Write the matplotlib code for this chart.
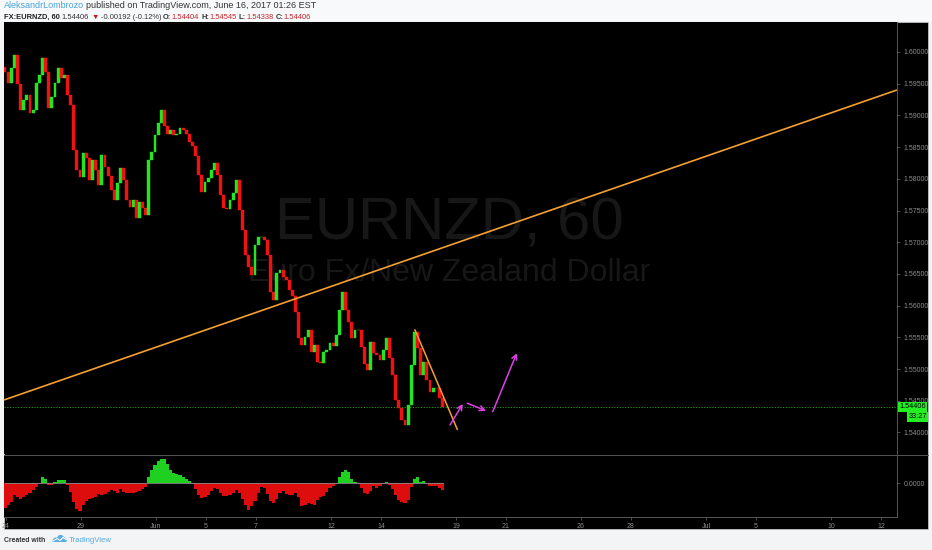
import numpy as np
import matplotlib
matplotlib.use("Agg")
import matplotlib.pyplot as plt
from matplotlib.patches import Rectangle, Polygon
from matplotlib.lines import Line2D
from matplotlib.transforms import blended_transform_factory

# ---------------- data ----------------
# 3-hour closes of EURNZD, trading-day axis (0 = May 24)
first_open = 1.59764
closes = [
    1.59685, 1.59511, 1.59748, 1.59953, 1.59495, 1.59085, 1.59243, 1.59322,
    1.59038, 1.59085, 1.59511, 1.59637, 1.59905, 1.59685, 1.59117, 1.59290,
    1.59511, 1.59748, 1.59590, 1.59637, 1.59322, 1.59164, 1.58455, 1.58139,
    1.58029, 1.58407, 1.58328, 1.57981, 1.58297, 1.58139, 1.57903, 1.58376,
    1.58187, 1.58045, 1.57824, 1.57666, 1.57934, 1.58171, 1.57981, 1.57666,
    1.57556, 1.57666, 1.57382, 1.57634, 1.57540, 1.57430, 1.58297, 1.58423,
    1.58691, 1.58880, 1.59085, 1.58833, 1.58707, 1.58770, 1.58691, 1.58707,
    1.58802, 1.58770, 1.58707, 1.58581, 1.58518, 1.58360, 1.58060, 1.57792,
    1.57950, 1.58013, 1.58139, 1.58250, 1.58060, 1.57745, 1.57540, 1.57524,
    1.57666, 1.57777, 1.57981, 1.57509, 1.57193, 1.56799, 1.56610, 1.56484,
    1.56957, 1.57083, 1.57083, 1.57035, 1.56799, 1.56215, 1.56089, 1.56515,
    1.56562, 1.56452, 1.56404, 1.56247, 1.56152, 1.55900, 1.55490, 1.55379,
    1.55505, 1.55616, 1.55269, 1.55379, 1.55111, 1.55096, 1.55269, 1.55301,
    1.55411, 1.55364, 1.55537, 1.55931, 1.56215, 1.55931, 1.55742, 1.55490,
    1.55616, 1.55616, 1.55348, 1.55080, 1.54986, 1.55427, 1.55253, 1.55222,
    1.55143, 1.55301, 1.55490, 1.55174, 1.54907, 1.54512, 1.54386, 1.54197,
    1.54118, 1.54434, 1.55064, 1.55584, 1.55332, 1.54907, 1.55111, 1.54828,
    1.54638, 1.54702, 1.54702, 1.54544, 1.54406,
]
# oscillator histogram (units of 1e-4)
osc_e4 = [
    -25, -22, -19, -12, -14, -16, -14, -12, -10, -7, -4, -1, 6, 4, -2, -2,
    1, 3, 3, 3, -2, -9, -19, -26, -28, -22, -18, -16, -15, -14, -11, -12,
    -11, -9, -7, -8, -10, -6, -9, -10, -10, -10, -9, -8, -6, -4, 6, 13,
    18, 22, 24, 24, 19, 13, 10, 9, 8, 6, 4, 2, -1, -6, -12, -15,
    -14, -12, -8, -5, -6, -10, -13, -13, -12, -10, -7, -10, -16, -22, -27, -23,
    -18, -10, -4, -5, -11, -18, -20, -16, -10, -8, -11, -12, -12, -10, -14, -23,
    -22, -20, -21, -22, -17, -14, -13, -9, -5, -3, 0, 6, 11, 13, 11, 4,
    1, -1, -5, -10, -11, -8, -3, -5, -3, -1, 1, -2, -6, -12, -17, -19,
    -20, -17, -4, 4, 6, 1, 2, -1, -3, -3, -3, -5, -7,
]
bar_days = 0.125          # 3-hour bars on a trading-day axis
start_day = -0.04
last_price = 1.54406
countdown = "33:27"

price_ticks = [1.540, 1.545, 1.550, 1.555, 1.560, 1.565, 1.570, 1.575,
               1.580, 1.585, 1.590, 1.595, 1.600]
tick_days = [0, 3, 6, 8, 10, 13, 15, 18, 20, 23, 25, 28, 30, 33, 35]
tick_labels = ["24", "29", "Jun", "5", "7", "12", "14", "19", "21", "26",
               "28", "Jul", "5", "10", "12"]

# user drawings
trend_long_x = [-0.08, 35.64]
trend_long_y = [1.54512, 1.59401]
trend_short_x = [16.36, 18.05]
trend_short_y = [1.55616, 1.54050]
arrow_starts = [(17.76, 1.54118), (18.45, 1.54460), (19.47, 1.54328)]
arrow_ends = [(18.27, 1.54449), (19.20, 1.54343), (20.43, 1.55249)]

# ---------------- layout ----------------
W, H = 932, 550
FAM = ["Liberation Sans", "DejaVu Sans"]
fig = plt.figure(figsize=(W / 100, H / 100), dpi=100, facecolor="#f2f4f6")


def fx(px):
    return px / W


def fy(py):
    return 1 - py / H


# header strip
fig.patches.append(Rectangle((0, fy(21)), 1, 21 / H, transform=fig.transFigure,
                             facecolor="#f8f9fa", edgecolor="none", zorder=-5))
# black chart area
fig.patches.append(Rectangle((fx(4), fy(529)), fx(928) - fx(4), fy(22) - fy(529),
                             transform=fig.transFigure, facecolor="black",
                             edgecolor="#d0d0d0", lw=0.5, zorder=-5))

ax = fig.add_axes([fx(4), fy(454), fx(897) - fx(4), fy(22) - fy(454)])
ax2 = fig.add_axes([fx(4), fy(517), fx(897) - fx(4), fy(455) - fy(517)])

GRID = "#555555"
LBL = "#8c8c8c"
for a in (ax, ax2):
    a.set_zorder(1)
    a.set_facecolor("black")
    for s in a.spines.values():
        s.set_visible(False)
    a.spines["right"].set_visible(True)
    a.spines["right"].set_color(GRID)
    a.spines["right"].set_linewidth(0.7)
    a.yaxis.tick_right()
    a.tick_params(axis="y", direction="out", length=2.5, width=0.6, color=GRID,
                  labelcolor=LBL, labelsize=5, pad=2)
    a.set_xlim(-0.08, 35.64)

ax2.spines["bottom"].set_visible(True)
ax2.spines["bottom"].set_color(GRID)
ax2.spines["bottom"].set_linewidth(0.7)

# ---------------- price candles ----------------
closes = np.array(closes)
n = len(closes)
t = start_day + np.arange(n) * bar_days
opens = np.r_[first_open, closes[:-1]]
up = closes >= opens
cols = np.where(up, "#22e622", "#f01212")
bottoms = np.minimum(opens, closes)
heights = np.maximum(np.abs(closes - opens), 0.00004)
ax.bar(t, heights, bottom=bottoms, width=bar_days * 0.92, color=cols,
       edgecolor=cols, linewidth=0.3, zorder=3)

ax.set_ylim(1.53660, 1.60473)
ax.set_yticks(price_ticks)
ax.set_yticklabels([f"{v:.5f}" for v in price_ticks], family=FAM)
ax.set_xticks([])

# watermark
wm_x = (449 - 4) / (897 - 4)
ax.text(wm_x, 1 - (224 - 22) / (454 - 22), "EURNZD, 60", transform=ax.transAxes,
        ha="center", va="center", fontsize=43, color="#171717", family=FAM, zorder=1)
ax.text(wm_x, 1 - (273 - 22) / (454 - 22), "Euro Fx/New Zealand Dollar",
        transform=ax.transAxes, ha="center", va="center", fontsize=23,
        color="#171717", family=FAM, zorder=1)

# last price dotted line
ax.axhline(last_price, color="#16a016", lw=0.7, ls=(0, (1.2, 1.6)), zorder=2)

# trend lines
ax.plot(trend_long_x, trend_long_y, color="#f5a030", lw=1.2, zorder=4,
        solid_capstyle="butt")
ax.plot(trend_short_x, trend_short_y, color="#f5a030", lw=1.1, zorder=4)

# projection arrows
for s, e in zip(arrow_starts, arrow_ends):
    ax.annotate("", xy=e, xytext=s,
                arrowprops=dict(arrowstyle="->,head_length=0.35,head_width=0.18",
                                color="#e040e8", lw=1.1, shrinkA=0, shrinkB=0),
                zorder=5)

# price labels on the axis
blend = blended_transform_factory(fig.transFigure, ax.transData)
ax.text(fx(899), last_price, "1.54406", transform=blend, ha="left", va="center",
        fontsize=5.3, color="black", family=FAM, clip_on=False, zorder=10,
        bbox=dict(boxstyle="square,pad=0.2", fc="#22ee22", ec="none"))
ax.annotate(countdown, xy=(fx(927), last_price), xycoords=blend,
            xytext=(0, -7.4), textcoords="offset points", ha="right", va="center",
            fontsize=5.3, color="black", family=FAM, annotation_clip=False, zorder=10,
            bbox=dict(boxstyle="square,pad=0.2", fc="#22ee22", ec="none"))

# ---------------- oscillator ----------------
osc = np.array(osc_e4) * 1e-4
ocol = np.where(osc >= 0, "#20d020", "#dd0d0d")
ax2.bar(t, osc, width=bar_days, color=ocol, linewidth=0, zorder=3)
ax2.plot([t[0], t[-1]], [0, 0], color="#8a8a8a", lw=0.6, zorder=4)
ax2.set_ylim(-0.0034, 0.0028)
ax2.set_yticks([0.0])
ax2.set_yticklabels(["0.0000"], family=FAM)
ax2.set_xticks(tick_days)
ax2.set_xticklabels(tick_labels, family=FAM)
ax2.tick_params(axis="x", direction="out", length=2.5, width=0.6, color=GRID,
                labelcolor=LBL, labelsize=5, pad=1.5)

# pane separator
fig.add_artist(Line2D([fx(4), fx(928)], [fy(454.5), fy(454.5)], color=GRID, lw=0.7,
                      transform=fig.transFigure, zorder=2))

# ---------------- header / footer text ----------------
renderer = fig.canvas.get_renderer()


def seq_text(x_px, y_px, parts, size, target_w):
    # lay out once to measure, then rescale so the line has the target width
    for attempt in range(2):
        x = x_px
        arts = []
        for s, col, wt, gap in parts:
            tx = fig.text(fx(x), fy(y_px), s, color=col, fontsize=size,
                          fontweight=wt, family=FAM, ha="left", va="baseline",
                          zorder=3)
            arts.append(tx)
            x += tx.get_window_extent(renderer).width + gap * size / 6.0
        if attempt == 0:
            size = size * target_w / (x - x_px)
            for a_ in arts:
                a_.remove()
    return x


seq_text(4, 8.5, [("AleksandrLombrozo", "#44a4dc", "normal", 2.0),
                  ("published on TradingView.com, June 16, 2017 01:26 EST", "#333333",
                   "normal", 0)], 6, 314)
RED = "#c9232b"
DK = "#333333"
seq_text(4, 19, [("FX:EURNZD, 60", "#222222", "bold", 2.2),
                 ("1.54406", DK, "normal", 2.2),
                 ("\u25BC", "#d0101a", "normal", 2.2),
                 ("-0.00192 (-0.12%)", DK, "normal", 2.2),
                 ("O:", DK, "bold", 0.5), ("1.54404", RED, "normal", 2.2),
                 ("H:", DK, "bold", 0.5), ("1.54545", RED, "normal", 2.2),
                 ("L:", DK, "bold", 0.5), ("1.54338", RED, "normal", 2.2),
                 ("C:", DK, "bold", 0.5), ("1.54406", RED, "normal", 0)], 6, 308)

seq_text(4, 541.5, [("Created with", "#333333", "bold", 0)], 6, 42)
# TradingView cloud logo (approximate)
cloud = [(52, 542), (53, 539), (55, 537.5), (57, 537.5), (59, 535), (62, 535),
         (64, 537), (66, 538.5), (67, 541), (66, 542)]
fig.patches.append(Polygon([(fx(a), fy(b)) for a, b in cloud], closed=True,
                           transform=fig.transFigure, facecolor="#5aaee2",
                           edgecolor="none", zorder=2))
fig.add_artist(Line2D([fx(53), fx(57), fx(60), fx(63), fx(66)],
                      [fy(541), fy(538.5), fy(540.5), fy(537.5), fy(539.5)],
                      color="white", lw=0.8, transform=fig.transFigure, zorder=3))
seq_text(69, 541.5, [("TradingView", "#55a9e0", "normal", 0)], 6.5, 43)

fig.savefig("out.png", dpi=100, facecolor=fig.get_facecolor())
